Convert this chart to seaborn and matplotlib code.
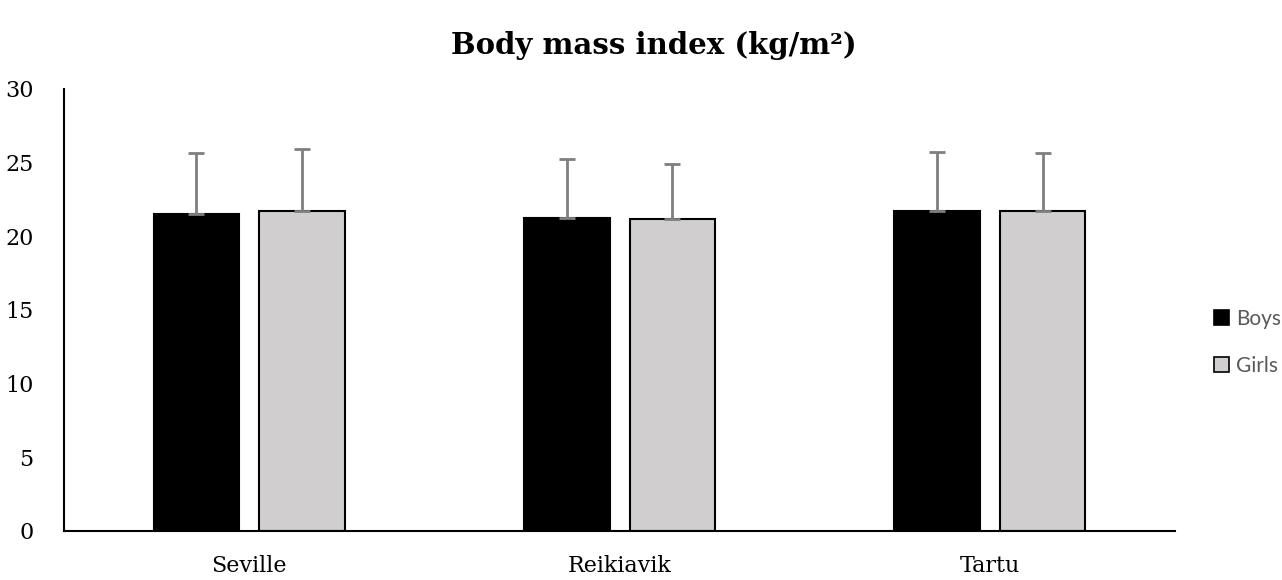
import pandas as pd
import seaborn as sns
import matplotlib.pyplot as plt

cities = ['Seville', 'Reikiavik', 'Tartu']
groups = ['Boys', 'Girls']
boys_mean = [21.5, 21.25, 21.7]
girls_mean = [21.7, 21.15, 21.7]
boys_sd = [4.15, 4.0, 4.0]
girls_sd = [4.2, 3.75, 3.95]

df = pd.DataFrame({
    'city': cities * 2,
    'group': ['Boys'] * 3 + ['Girls'] * 3,
    'bmi': boys_mean + girls_mean,
    'sd': boys_sd + girls_sd,
})

sns.set_style('white')
plt.rcParams['font.family'] = ['DejaVu Serif', 'Liberation Serif']
plt.rcParams['text.color'] = 'black'
plt.rcParams['xtick.color'] = 'black'
plt.rcParams['ytick.color'] = 'black'

fig = plt.figure(figsize=(12.82, 5.8), dpi=100)
ax = fig.add_axes([0.05, 0.0845, 0.8665, 0.7621])

colors = {'Boys': '#000000', 'Girls': '#d0cece'}
sns.barplot(data=df, x='city', y='bmi', hue='group', hue_order=groups,
            palette=colors, width=0.57, gap=0.19, edgecolor='black',
            linewidth=1.5, errorbar=None, ax=ax, legend=False)

# upper-only error bars, from the bar positions
for bars, g in zip(ax.containers, groups):
    sub = df[df['group'] == g]
    xs = [b.get_x() + b.get_width() / 2 for b in bars]
    ax.errorbar(xs, sub['bmi'], yerr=[[0] * 3, list(sub['sd'])], fmt='none',
                ecolor='#7f7f7f', elinewidth=2, capsize=6, capthick=2)

ax.set_ylim(0, 30)
ax.set_xlim(-0.5, 2.5)
ax.set_yticks(range(0, 31, 5))
ax.set_xlabel('')
ax.set_ylabel('')
ax.tick_params(axis='both', length=0, labelsize=16)
ax.tick_params(axis='x', pad=17)
ax.tick_params(axis='y', pad=22)
for s in ['top', 'right']:
    ax.spines[s].set_visible(False)
for s in ['left', 'bottom']:
    ax.spines[s].set_color('black')
    ax.spines[s].set_linewidth(1.5)

fig.text(0.51, 0.922, 'Body mass index (kg/m²)', ha='center', va='center',
         fontsize=21, fontweight='bold', color='black')

handles = [plt.Rectangle((0, 0), 1, 1, facecolor=colors[g], edgecolor='black', linewidth=1.2)
           for g in groups]
leg = fig.legend(handles, groups, loc='center left', bbox_to_anchor=(0.932, 0.41),
                 frameon=False, handlelength=0.75, handleheight=0.75,
                 handletextpad=0.35, labelspacing=1.3,
                 prop={'family': 'Lato', 'size': 15})
for t in leg.get_texts():
    t.set_color('#595959')

fig.savefig('out.png', dpi=100)
